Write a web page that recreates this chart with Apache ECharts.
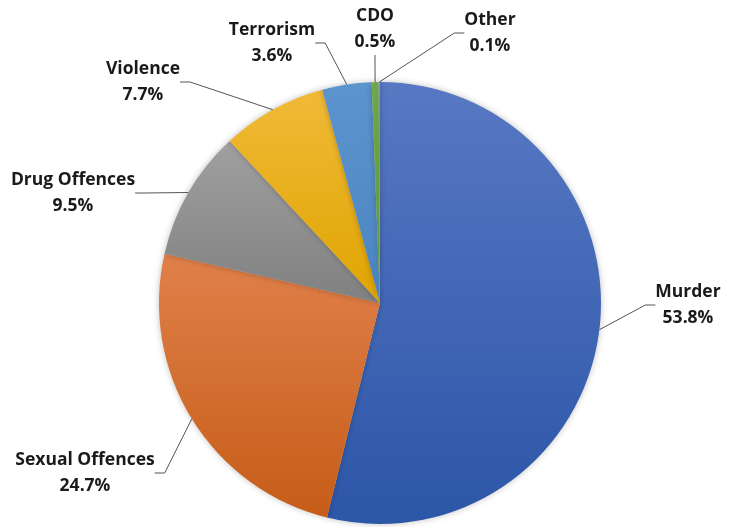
<!DOCTYPE html>
<html><head><meta charset="utf-8">
<script src="https://cdn.jsdelivr.net/npm/echarts@6/dist/echarts.min.js"></script>
<style>html,body{margin:0;padding:0;background:#fff}#c{width:730px;height:527px}</style>
</head><body><div id="c"></div>
<script>
const categories = ['Murder','Sexual Offences','Drug Offences','Violence','Terrorism','CDO','Other'];
const values = [53.8, 24.7, 9.5, 7.7, 3.6, 0.5, 0.1];
const colorsTop = ['#5878c3','#e0804a','#a0a0a0','#f0ba38','#5c94ce','#70aa48','#7a90c8'];
const colorsBottom = ['#2c56a8','#c65c18','#808080','#e0a400','#4a84c0','#5f9a3a','#6880bc'];
const labelPos = [[688,305],[85,473],[73,193],[143,82],[272,43],[375,29],[490,33]];

const chart = echarts.init(document.getElementById('c'));
chart.setOption({
  animation:false,
  series:[{
    type:'pie',
    center:[380,303],
    radius:[0,221],
    startAngle:90,
    clockwise:true,
    data: categories.map((n,i)=>({
      name:n, value:values[i],
      itemStyle:{color:new echarts.graphic.LinearGradient(0,0,0,1,[{offset:0,color:colorsTop[i]},{offset:1,color:colorsBottom[i]}])}
    })),
    itemStyle:{shadowBlur:6,shadowColor:'rgba(0,0,0,0.25)',borderWidth:0},
    label:{
      show:true,
      formatter:p=>p.name+'\n'+p.value.toFixed(1)+'%',
      fontFamily:'"Open Sans", sans-serif',
      fontWeight:700,
      fontSize:17.5,
      lineHeight:26,
      color:'#1a1a1a',
      align:'center',
      overflow:'none'
    },
    labelLine:{show:true,length:20,length2:10,lineStyle:{color:'#555',width:1}},
    labelLayout:function(p){
      const pos = labelPos[p.dataIndex];
      return {x:pos[0],y:pos[1],align:'center',verticalAlign:'middle',hideOverlap:false};
    }
  }]
});
</script></body></html>
